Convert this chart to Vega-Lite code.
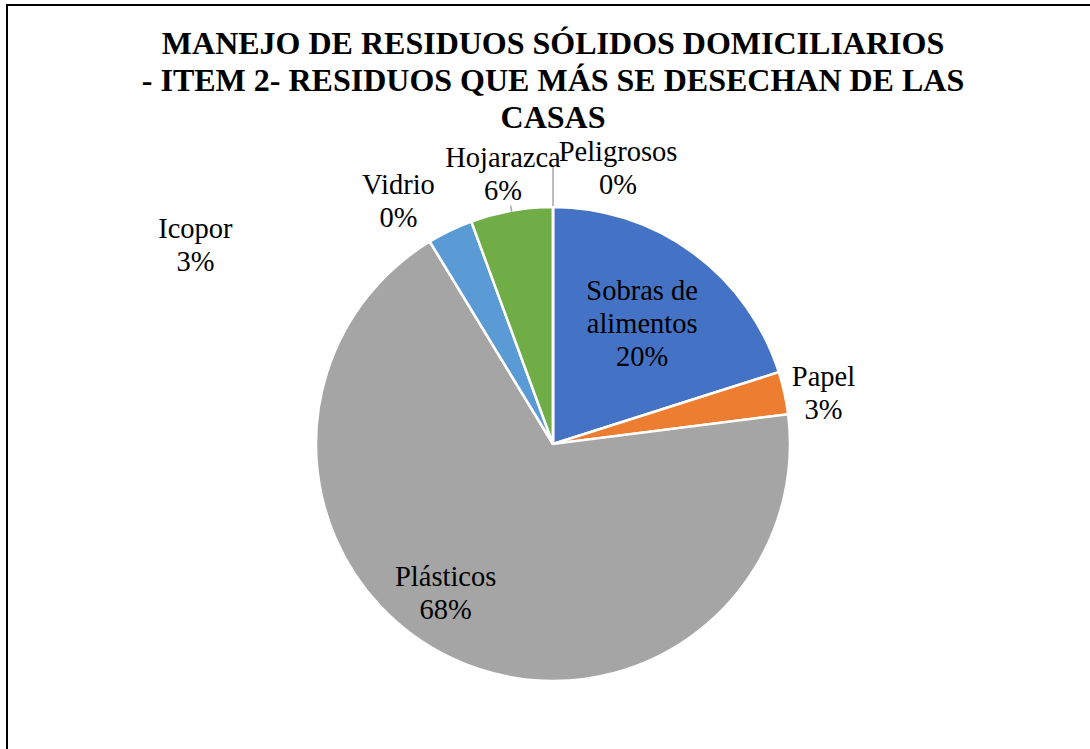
{
  "$schema": "https://vega.github.io/schema/vega-lite/v6.json",
  "autosize": "none",
  "padding": {"left": 7, "top": 5, "right": 0, "bottom": 0},
  "width": 1092,
  "height": 878,
  "background": "white",
  "view": {"stroke": "black", "strokeWidth": 2, "fill": "white"},
  "config": {
    "view": {"stroke": "black", "strokeWidth": 2},
    "text": {"font": "Times New Roman, Liberation Serif, serif", "fontSize": 28.5, "lineHeight": 33, "lineBreak": "\n", "align": "center", "baseline": "middle", "color": "black"}
  },
  "title": {
    "text": ["MANEJO DE RESIDUOS SÓLIDOS DOMICILIARIOS", "- ITEM 2- RESIDUOS QUE MÁS SE DESECHAN DE LAS", "CASAS"],
    "font": "Times New Roman, Liberation Serif, serif",
    "fontSize": 32,
    "fontWeight": "bold",
    "color": "black",
    "lineHeight": 37,
    "anchor": "middle",
    "frame": "group",
    "offset": -155,
    "baseline": "alphabetic"
  },
  "data": {
    "values": [
      {"category": "Sobras de alimentos", "value": 20.1, "order": 1},
      {"category": "Papel", "value": 2.9, "order": 2},
      {"category": "Plásticos", "value": 68.3, "order": 3},
      {"category": "Vidrio", "value": 0, "order": 4},
      {"category": "Icopor", "value": 3.1, "order": 5},
      {"category": "Hojarazca", "value": 5.6, "order": 6},
      {"category": "Peligrosos", "value": 0, "order": 7}
    ]
  },
  "transform": [
    {"stack": "value", "groupby": [], "sort": [{"field": "order"}], "as": ["v0", "v1"]},
    {"calculate": "(datum.v0 + datum.v1) / 2", "as": "mid"},
    {"calculate": "replace(datum.category, 'de ', 'de\\n') + '\\n' + format(datum.value / 100, '.0%')", "as": "label"}
  ],
  "layer": [
    {
      "mark": {"type": "arc", "radius": 237, "stroke": "white", "strokeWidth": 2.5},
      "encoding": {
        "theta": {"field": "v0", "type": "quantitative", "scale": {"domain": [0, 100]}},
        "theta2": {"field": "v1"},
        "color": {
          "field": "category", "type": "nominal", "legend": null,
          "scale": {
            "domain": ["Sobras de alimentos", "Papel", "Plásticos", "Vidrio", "Icopor", "Hojarazca", "Peligrosos"],
            "range": ["#4472C4", "#ED7D31", "#A5A5A5", "#FFC000", "#5B9BD5", "#70AD47", "#264478"]
          }
        }
      }
    },
    {
      "transform": [{"filter": "datum.category === 'Peligrosos'"}],
      "mark": {"type": "arc", "radius": 277, "radius2": 238, "stroke": "#A6A6A6", "strokeWidth": 1.5, "fill": "transparent"},
      "encoding": {
        "theta": {"field": "mid", "type": "quantitative"},
        "theta2": {"field": "mid"}
      }
    },
    {
      "transform": [{"filter": "datum.category === 'Hojarazca'"}],
      "mark": {"type": "arc", "radius": 242, "radius2": 236, "stroke": "#A6A6A6", "strokeWidth": 1.5, "fill": "transparent"},
      "encoding": {
        "theta": {"field": "mid", "type": "quantitative"},
        "theta2": {"field": "mid"}
      }
    },
    {
      "transform": [{"filter": "datum.category === 'Sobras de alimentos'"}],
      "mark": {"type": "text", "radius": 151, "dy": -31},
      "encoding": {"theta": {"field": "mid", "type": "quantitative"}, "text": {"field": "label"}}
    },
    {
      "transform": [{"filter": "datum.category === 'Plásticos'"}],
      "mark": {"type": "text", "radius": 185, "dx": -27, "dy": -34},
      "encoding": {"theta": {"field": "mid", "type": "quantitative"}, "text": {"field": "label"}}
    },
    {
      "transform": [{"filter": "datum.category === 'Papel'"}],
      "mark": {"type": "text", "radius": 280, "dx": -3, "dy": -7},
      "encoding": {"theta": {"field": "mid", "type": "quantitative"}, "text": {"field": "label"}}
    },
    {
      "transform": [{"filter": "datum.category === 'Vidrio'"}],
      "mark": {"type": "text", "radius": 280, "dx": -9, "dy": -20},
      "encoding": {"theta": {"field": "mid", "type": "quantitative"}, "text": {"field": "label"}}
    },
    {
      "transform": [{"filter": "datum.category === 'Icopor'"}],
      "mark": {"type": "text", "radius": 280, "dx": -236, "dy": 37},
      "encoding": {"theta": {"field": "mid", "type": "quantitative"}, "text": {"field": "label"}}
    },
    {
      "transform": [{"filter": "datum.category === 'Hojarazca'"}],
      "mark": {"type": "text", "radius": 280, "dx": -1, "dy": -10},
      "encoding": {"theta": {"field": "mid", "type": "quantitative"}, "text": {"field": "label"}}
    },
    {
      "transform": [{"filter": "datum.category === 'Peligrosos'"}],
      "mark": {"type": "text", "radius": 280, "dx": 65, "dy": -12},
      "encoding": {"theta": {"field": "mid", "type": "quantitative"}, "text": {"field": "label"}}
    }
  ]
}
